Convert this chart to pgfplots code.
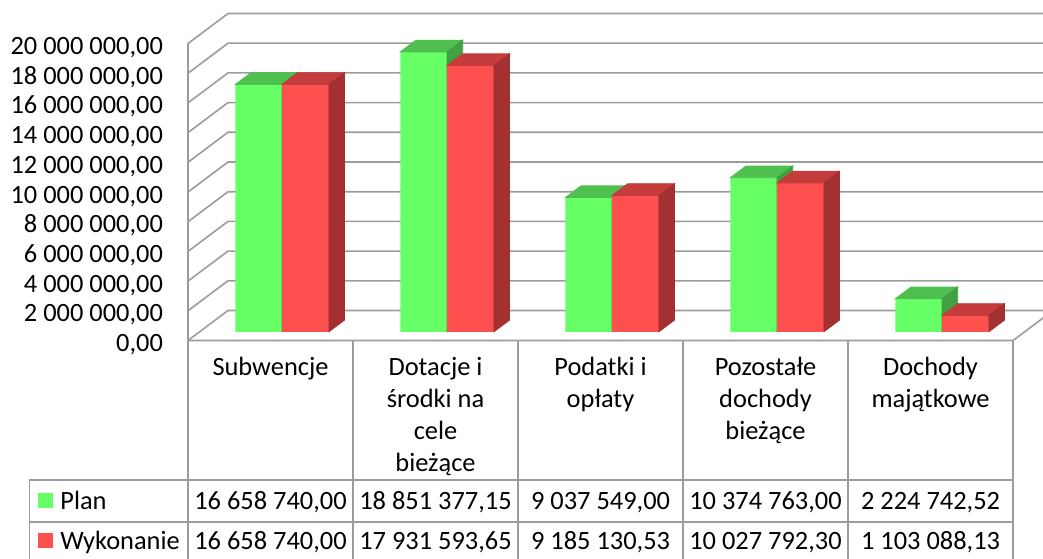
\documentclass[border=0pt]{standalone}
\usepackage{pgfplots}
\pgfplotsset{compat=1.18}
\usepackage{pgfplotstable}
\usepackage{fontspec}
\setmainfont{Carlito}
\definecolor{gfront}{HTML}{66FF66}
\definecolor{gtop}{HTML}{4FC04F}
\definecolor{gside}{HTML}{42A042}
\definecolor{rfront}{HTML}{FF5050}
\definecolor{rtop}{HTML}{C43C3C}
\definecolor{rside}{HTML}{A33131}
\definecolor{gridc}{HTML}{9C9C9C}
\pgfdeclareplotmark{emptymark}{}
% values in millions
\pgfplotstableread{
i plan wyk
0 16.65874 16.65874
1 18.85137715 17.93159365
2 9.037549 9.18513053
3 10.374763 10.0277923
4 2.22474252 1.10308813
}\data
\begin{document}
\fontsize{13.2pt}{16pt}\selectfont
\begin{tikzpicture}[x=0.5pt,y=0.5pt]
\path[use as bounding box, clip] (0,0) rectangle (1043,558);
% back wall, left wall and floor
\foreach \k in {0,...,10}{
  \draw[gridc, line width=0.8pt] (188,{217.5+29.7*\k}) -- (228,{247.5+29.7*\k}) -- (1060,{247.5+29.7*\k});
}
\draw[gridc, line width=0.8pt] (188,217.5) -- (188,514.5);
\draw[gridc, line width=0.8pt] (188,217.5) -- (1013,217.5) -- (1053,247.5);
% table lines
\foreach \xx in {188,353,518,683,848,1013}{
  \draw[gridc, line width=0.8pt] (\xx,217.5) -- (\xx,-5);
}
\draw[gridc, line width=0.8pt] (29.3,-5) -- (29.3,78) -- (1013,78);
\draw[gridc, line width=0.8pt] (29.3,36.3) -- (1013,36.3);
\begin{axis}[
  at={(99.8pt,113.1pt)}, anchor=south west,
  scale only axis, width=412.5pt, height=148.5pt,
  xmin=-0.5, xmax=4.5, ymin=0, ymax=20,
  clip=false, clip marker paths=true,
  axis line style={draw=none},
  major tick length=0pt,
  xtick=\empty,
  ytick={0,2,...,20},
  yticklabels={{0,00},{2 000 000,00},{4 000 000,00},{6 000 000,00},{8 000 000,00},{10 000 000,00},{12 000 000,00},{14 000 000,00},{16 000 000,00},{18 000 000,00},{20 000 000,00}},
  yticklabel style={anchor=base east, inner sep=0pt, xshift=-18.15pt, yshift=-9.85pt},
  point meta min=0, point meta max=20,
]
% Plan front faces
\addplot[ybar, bar width=23.4pt, bar shift=-11.7pt, fill=gfront, draw=none] table[x=i,y=plan]{\data};
% Plan top and side faces
\addplot[scatter, only marks, mark=emptymark, point meta=y,
  scatter/@pre marker code/.code={%
    \pgfmathsetmacro\hh{\pgfplotspointmetatransformed*0.1485}%
    \fill[gtop] (-23.4pt,0pt) -- (0pt,0pt) -- (7.8pt,5.85pt) -- (-15.6pt,5.85pt) -- cycle;
    \fill[gside] (0pt,0pt) -- (7.8pt,5.85pt) -- (7.8pt,{5.85pt-\hh pt}) -- (0pt,{-\hh pt}) -- cycle;
  },
  scatter/@post marker code/.code={}
] table[x=i,y=plan]{\data};
% Wykonanie front faces
\addplot[ybar, bar width=23.4pt, bar shift=11.7pt, fill=rfront, draw=none] table[x=i,y=wyk]{\data};
% Wykonanie top and side faces
\addplot[scatter, only marks, mark=emptymark, point meta=y,
  scatter/@pre marker code/.code={%
    \pgfmathsetmacro\hh{\pgfplotspointmetatransformed*0.1485}%
    \fill[rtop] (0pt,0pt) -- (23.4pt,0pt) -- (31.2pt,5.85pt) -- (7.8pt,5.85pt) -- cycle;
    \fill[rside] (23.4pt,0pt) -- (31.2pt,5.85pt) -- (31.2pt,{5.85pt-\hh pt}) -- (23.4pt,{-\hh pt}) -- cycle;
  },
  scatter/@post marker code/.code={}
] table[x=i,y=wyk]{\data};
\end{axis}
% category names
\begin{scope}[every node/.style={inner sep=0pt, anchor=base}]
\node at (270.5,183) {Subwencje};
\node at (435.5,183) {Dotacje i};
\node at (435.5,150.7) {środki na};
\node at (435.5,118.4) {cele};
\node at (435.5,86.1) {bieżące};
\node at (600.5,183) {Podatki i};
\node at (600.5,150.7) {opłaty};
\node at (765.5,183) {Pozostałe};
\node at (765.5,150.7) {dochody};
\node at (765.5,118.4) {bieżące};
\node at (930.5,183) {Dochody};
\node at (930.5,150.7) {majątkowe};
% data rows
\node at (270.5,48.7) {16 658 740,00};
\node at (435.5,48.7) {18 851 377,15};
\node at (600.5,48.7) {9 037 549,00};
\node at (765.5,48.7) {10 374 763,00};
\node at (930.5,48.7) {2 224 742,52};
\node at (270.5,8.7) {16 658 740,00};
\node at (435.5,8.7) {17 931 593,65};
\node at (600.5,8.7) {9 185 130,53};
\node at (765.5,8.7) {10 027 792,30};
\node at (930.5,8.7) {1 103 088,13};
% legend
\fill[gfront] (38.3,50.3) rectangle (53.3,65.3);
\fill[rfront] (38.3,10.3) rectangle (53.3,25.3);
\node[anchor=base west] at (60,48.7) {Plan};
\node[anchor=base west] at (60,8.7) {Wykonanie};
\end{scope}
\end{tikzpicture}
\end{document}
